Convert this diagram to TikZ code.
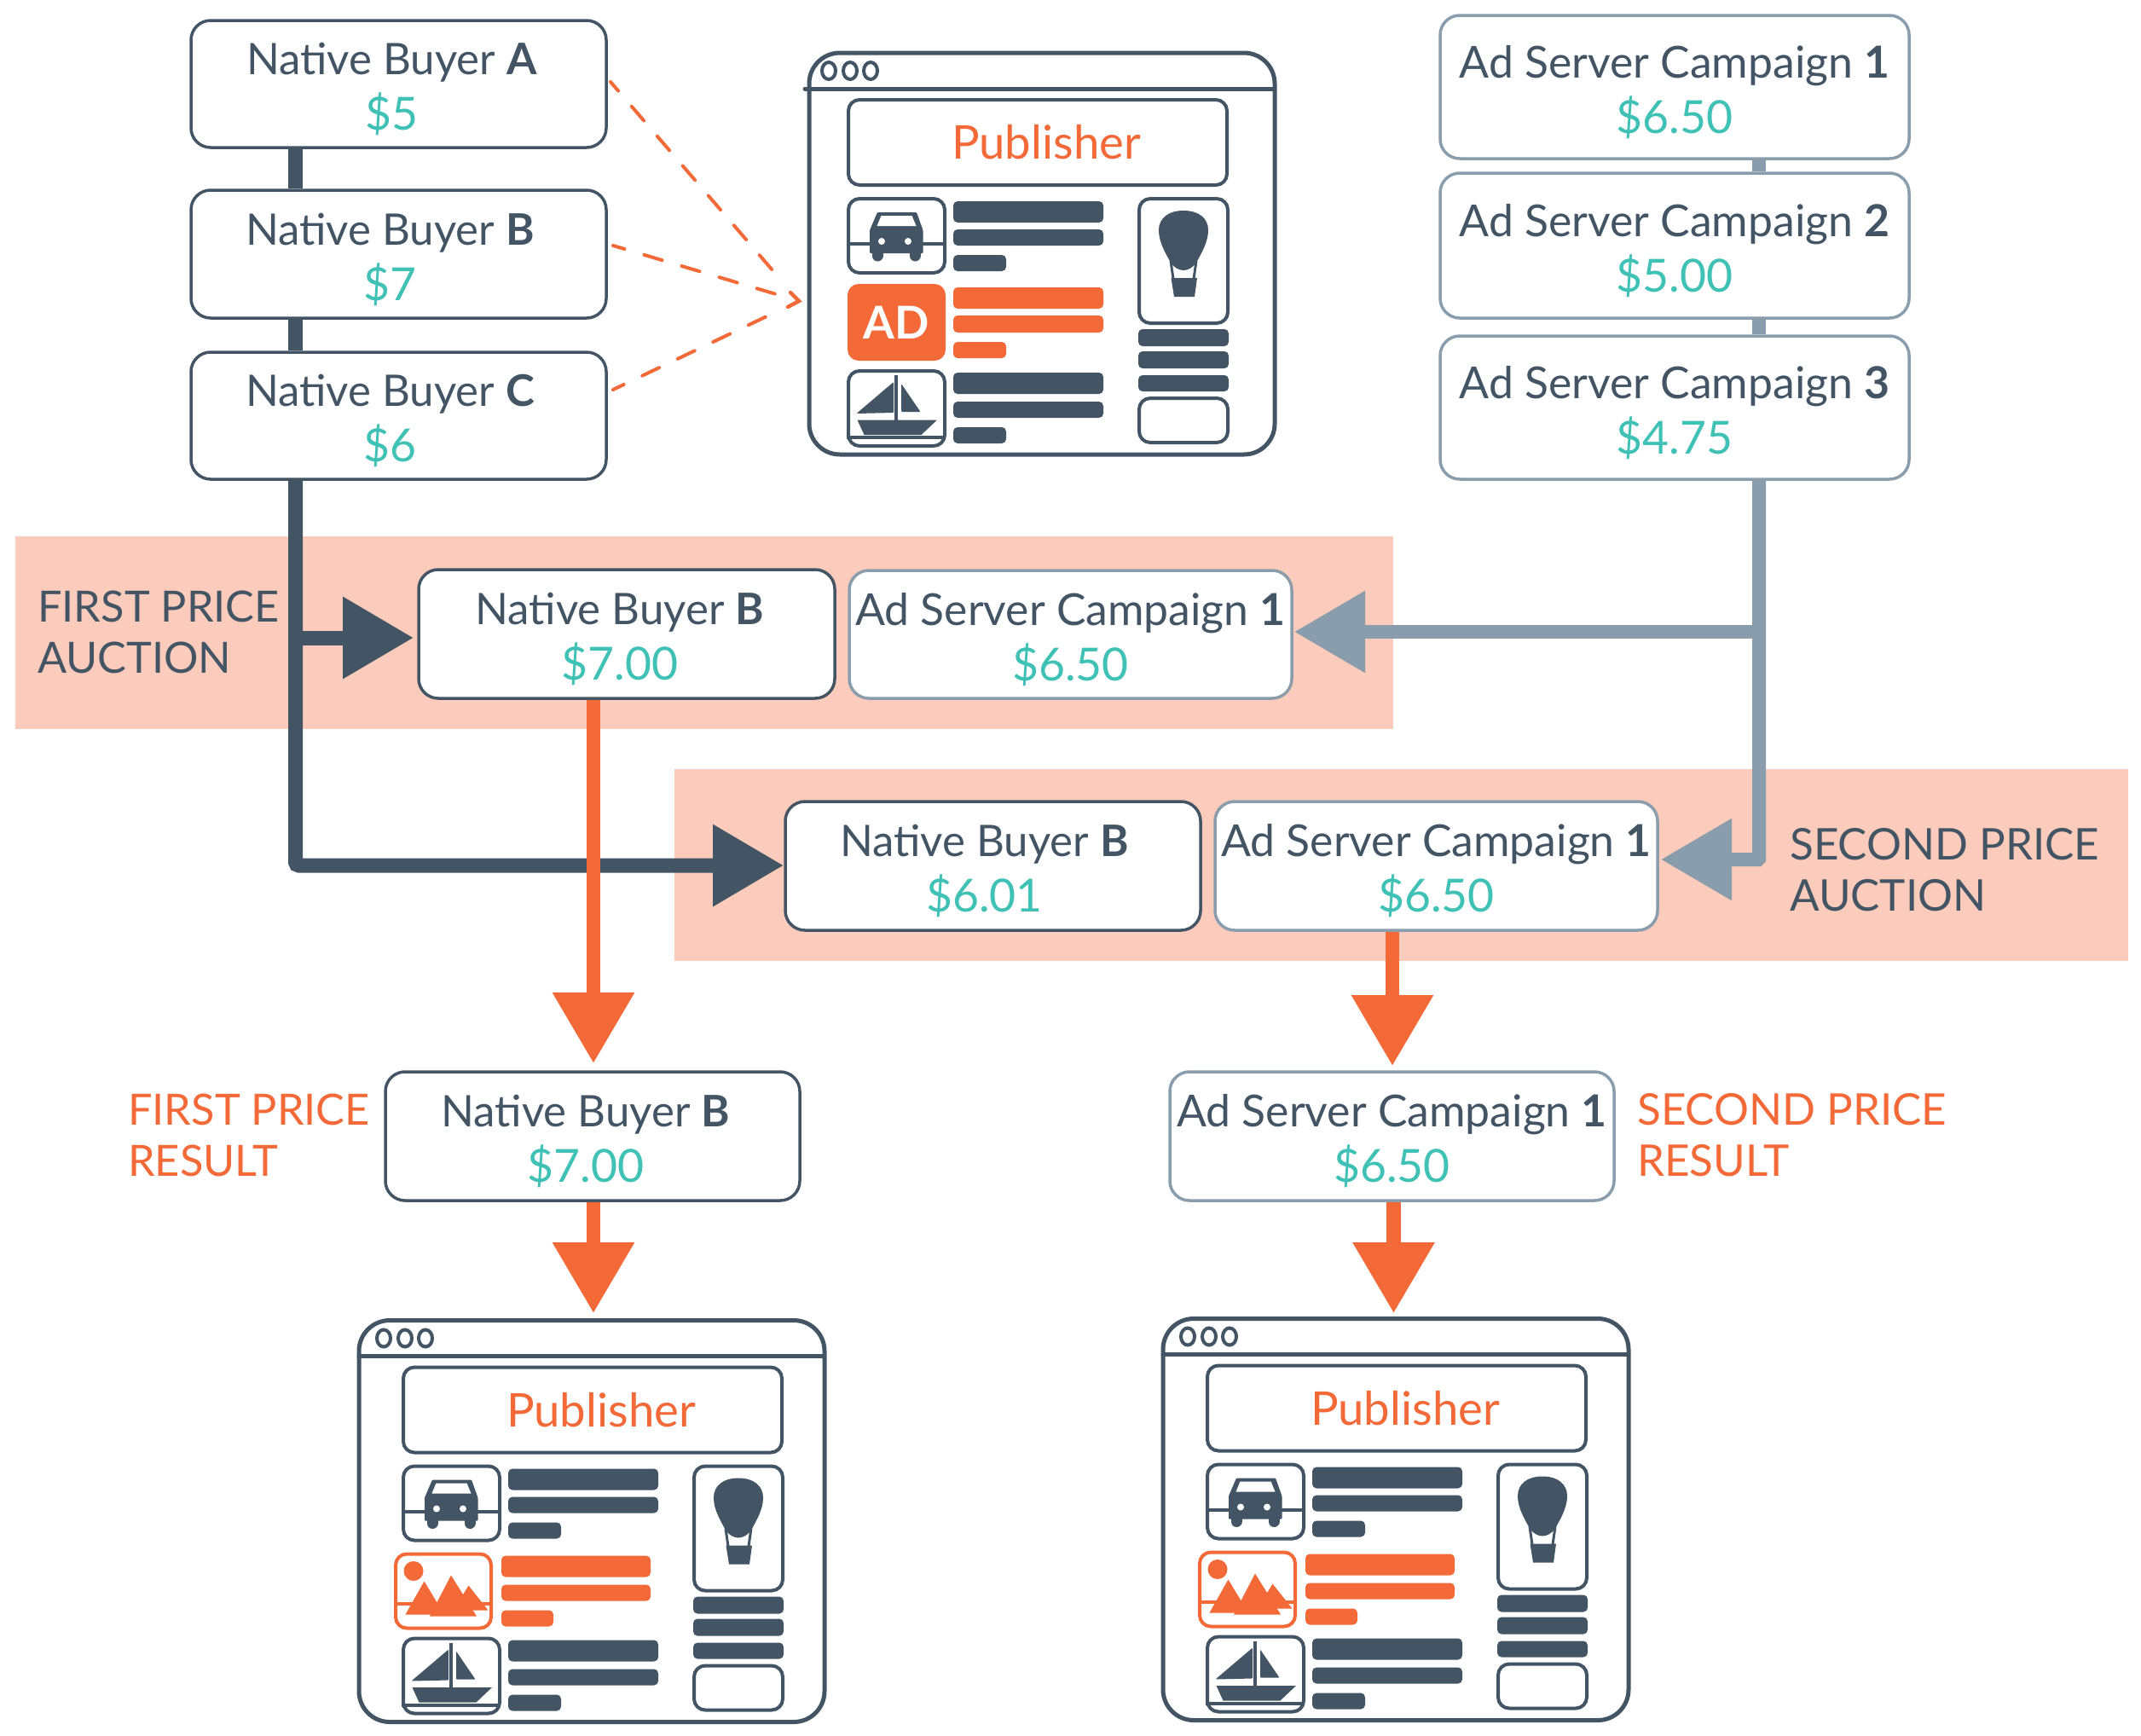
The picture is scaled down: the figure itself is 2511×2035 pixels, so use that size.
\documentclass[tikz,border=0pt]{standalone}
\usepackage{fontspec}
\setmainfont{Lato}
\usetikzlibrary{arrows.meta,calc}
\definecolor{dk}{HTML}{435564}
\definecolor{gy}{HTML}{8A9DAC}
\definecolor{tl}{HTML}{3FC1B5}
\definecolor{og}{HTML}{F36A38}
\definecolor{pc}{HTML}{FBCBBB}
\tikzset{
  bx/.style={draw,fill=white,rounded corners=23pt,line width=3.5pt,inner sep=0pt,align=center,text=dk,font=\fontsize{51}{65}\selectfont},
  dkbx/.style={bx,draw=dk},
  gybx/.style={bx,draw=gy},
  lab/.style={anchor=west,align=left,inner sep=0pt,font=\fontsize{50.5}{60}\selectfont},
  labw/.style={lab,font=\fontsize{51.2}{60}\selectfont},
  shaftd/.style={draw=dk,line width=17pt},
  shaftg/.style={draw=gy,line width=16pt},
  shafto/.style={draw=og,line width=16.5pt},
  hd/.style={-{Triangle[length=83pt,width=92pt]}},
  dsh/.style={draw=og,line width=4pt,line cap=round,dash pattern=on 22pt off 24pt,dash phase=8pt,shorten >=28pt},
  ic/.style={draw=dk,line width=4pt,rounded corners=13pt},
  bar/.style={fill=dk,rounded corners=5pt},
  obar/.style={fill=og,rounded corners=5pt},
}
\newcommand\cmpn[1]{{\fontsize{51.7}{65}\selectfont Ad Server Campaign \textbf{#1}}}
% box with its two lines of text; #9 is a right-hand kern that moves the text left
\newcommand\tb[9]{%
  \pgfmathsetmacro\tbx{(#3+#5)/2}\pgfmathsetmacro\tby{(#4+#6)/2}%
  \pgfmathsetmacro\tbw{#5-#3}\pgfmathsetmacro\tbh{#6-#4}%
  \node[#2,minimum width=\tbw pt,minimum height=\tbh pt] (#1) at (\tbx,\tby)
   {\rule{0pt}{50pt}#7\hspace*{#9}\\\textcolor{tl}{\fontsize{53.5}{65}\selectfont #8}\hspace*{#9}};}
\newcommand\pubwin[5]{% prefix, window x, window y, content x, mid
  \draw[dk,line width=5pt,rounded corners=36pt,fill=white] (#2,#3) rectangle ++(546,471);
  \draw[dk,line width=5pt,line cap=round] (#2,#3+42) -- ++(545,0);
  \begin{scope}[shift={(#4,#3)}]
   \foreach \ccx in {-23,2,26}{\draw[dk,line width=4pt] (\ccx,21) ellipse (8 and 10);}
   \node[draw=dk,line width=4pt,rounded corners=13pt,inner sep=0pt,minimum width=444pt,minimum height=100pt,text=og,font=\fontsize{54.5}{60}\selectfont] (#1pub) at (222,105) {\hspace*{20pt}Publisher};
   % car
   \draw[ic] (0,171) rectangle (113,258);
   \draw[dk,line width=4pt] (0,224) -- (113,224);
   \fill[dk,rounded corners=1pt] (34,187) -- (80,187) -- (87.5,208) -- (87.5,235) -- (25,235) -- (25,208) -- cycle;
   \draw[dk,line width=13pt,line cap=round] (34,232) -- (34,238) (78,232) -- (78,238);
   \fill[white] (38.5,191) -- (74.5,191) -- (79.5,203) -- (33.5,203) -- cycle;
   \fill[white] (39,221) circle (4) (70,221) circle (4);
   % text bars
   \fill[bar] (123,174) rectangle (299,199);\fill[bar] (123,207) rectangle (299,226);\fill[bar] (123,237) rectangle (185,256);
   \fill[bar] (123,375) rectangle (299,400);\fill[bar] (123,409) rectangle (299,428);\fill[bar] (123,439) rectangle (185,458);
   % boat
   \draw[ic] (0,373) rectangle (113,461);
   \draw[dk,line width=4pt] (-2,451) -- (114,451);
   \draw[dk,line width=4.5pt] (56,378) -- (56,431);
   \fill[dk,rounded corners=1pt] (53,386) -- (53,422) -- (9.5,423) -- cycle;
   \fill[dk,rounded corners=1pt] (62,388) -- (84.5,421) -- (62,421) -- cycle;
   \fill[dk] (10.5,430.5) -- (104,430.5) -- (85.5,448) -- (18.5,448) -- cycle;
   % balloon
   \draw[ic] (341,171) rectangle (445,317);
   \fill[dk] (393,185) .. controls (375,185) and (364,194) .. (364,208) .. controls (364,222) and (372,235) .. (378,246) .. controls (382,252) and (388,255) .. (393,255) .. controls (398,255) and (404,252) .. (408,246) .. controls (414,235) and (422,222) .. (422,208) .. controls (422,194) and (411,185) .. (393,185) -- cycle;
   \draw[dk,line width=3pt] (378,244) -- (381,265) (408,244) -- (405,265);
   \fill[dk] (378.5,264) -- (409,264) -- (406,286) -- (382,286) -- cycle;
   \fill[bar] (340,324) rectangle (446,344);\fill[bar] (340,350) rectangle (446,370);\fill[bar] (340,378) rectangle (446,397);
   \draw[ic] (341,405) rectangle (445,457);
   #5
  \end{scope}
}
\newcommand\admid[1]{%
  \node[fill=og,rounded corners=13pt,inner sep=0pt,minimum width=115pt,minimum height=90pt,text=white,font=\fontsize{53}{60}\selectfont\bfseries] (#1ad) at (56.5,316) {AD};
  \fill[obar] (123,275) rectangle (299,300);\fill[obar] (123,308) rectangle (299,328);\fill[obar] (123,339) rectangle (185,358);}
\newcommand\imgmid{%
  \draw[og,line width=4pt,rounded corners=13pt] (-9,274) rectangle (103,361);
  \draw[og,line width=4pt] (-9,332) -- (103,332);
  \fill[og] (12,294) circle (11.5);
  \fill[og] (2.5,345) -- (24.5,306) -- (48,345) -- cycle;
  \fill[og] (31,347) -- (56,299) -- (86,347) -- cycle;
  \fill[og] (59,340) -- (76.5,311) -- (99.5,340) -- cycle;
  \fill[obar] (115,276) rectangle (290,301);\fill[obar] (115,310) rectangle (290,329);\fill[obar] (115,340) rectangle (176,359);}
\begin{document}
\begin{tikzpicture}[x=1pt,y=-1pt]
\useasboundingbox (0,0) rectangle (2511,2035);
\fill[white] (0,0) rectangle (2511,2035);
\fill[pc] (18,629) rectangle (1634,855);
\fill[pc] (791,902) rectangle (2496,1127);
\coordinate (trunk) at (346.5,0);
\coordinate (gtrunk) at (2063,0);
\coordinate (tipa) at (485,748);
\coordinate (tipb) at (919,1015);
\coordinate (tipc) at (1518,741);
\coordinate (tipd) at (1948,1008);
\coordinate (tipe) at (696,1247);
\coordinate (tipf) at (696,1540);
\coordinate (tipg) at (1633,1250);
\coordinate (tiph) at (1634.5,1540);
\coordinate (da) at (716,96);
\coordinate (db) at (719,288);
\coordinate (dc) at (719,457);
\coordinate (dt) at (937,353);
\coordinate (cha) at (927,343);
\coordinate (chb) at (924,360);
\tb{A}{dkbx}{224}{24}{711}{173}{Native Buyer \textbf{A}}{\$5}{16pt}
\tb{B}{dkbx}{224}{223}{711}{373}{Native Buyer \textbf{B}}{\$7}{20pt}
\tb{C}{dkbx}{224}{413}{711}{562}{Native Buyer \textbf{C}}{\$6}{20pt}
\tb{c1}{gybx}{1689}{18}{2239}{186}{\cmpn{1}}{\$6.50}{0pt}
\tb{c2}{gybx}{1689}{203}{2239}{373}{\cmpn{2}}{\$5.00}{0pt}
\tb{c3}{gybx}{1689}{394}{2239}{562}{\cmpn{3}}{\$4.75}{0pt}
\draw[shaftd] (trunk |- A.south) -- (trunk |- B.north);
\draw[shaftd] (trunk |- B.south) -- (trunk |- C.north);
\draw[shaftg] (gtrunk |- c1.south) -- (gtrunk |- c2.north);
\draw[shaftg] (gtrunk |- c2.south) -- (gtrunk |- c3.north);
\draw[shaftd,hd,rounded corners=4pt] (trunk |- C.south) |- (tipb);
\draw[shaftd,hd] (trunk |- tipa) -- (tipa);
\draw[shaftg,hd,rounded corners=1pt] (gtrunk |- c3.south) |- (tipd);
\draw[shaftg,hd] (gtrunk |- tipc) -- (tipc);
\tb{nb}{dkbx}{491}{668}{979}{819}{Native Buyer \textbf{B}}{\$7.00}{16pt}
\tb{cs}{gybx}{996}{669}{1515}{819}{\cmpn{1}}{\$6.50}{0pt}
\tb{nc}{dkbx}{921}{940}{1408}{1091}{Native Buyer \textbf{B}}{\$6.01}{20pt}
\tb{cd}{gybx}{1425}{940}{1944}{1091}{\cmpn{1}}{\$6.50}{0pt}
\tb{nr}{dkbx}{452}{1257}{938}{1408}{Native Buyer \textbf{B}}{\$7.00}{16pt}
\tb{cr}{gybx}{1372}{1257}{1893}{1408}{\cmpn{1}}{\$6.50}{0pt}
\draw[shafto,hd] (nb.south -| tipe) -- (tipe);
\draw[shafto,hd] (nr.south -| tipf) -- (tipf);
\draw[shafto,hd] (cd.south -| tipg) -- (tipg);
\draw[shafto,hd] (cr.south -| tiph) -- (tiph);
\draw[dsh] (da) -- (dt);
\draw[dsh] (db) -- (dt);
\draw[dsh] (dc) -- (dt);
\draw[og,line width=4.5pt,line cap=round,line join=miter] (cha) -- (dt) -- (chb);
\node[lab,text=dk] (fa) at (44,741) {FIRST PRICE\\AUCTION};
\node[labw,text=dk] (sa) at (2099,1020) {SECOND PRICE\\AUCTION};
\node[lab,text=og] (fr) at (150,1331) {FIRST PRICE\\RESULT};
\node[labw,text=og] (sr) at (1920,1331) {SECOND PRICE\\RESULT};
\pubwin{wa}{949}{62}{995}{\admid{wa}}
\draw[dk,line width=5pt,line cap=round] (944,104) -- (950,104);
\pubwin{wb}{421}{1548.5}{473}{\imgmid}
\pubwin{wc}{1364}{1546.5}{1416}{\imgmid}
\end{tikzpicture}
\end{document}
